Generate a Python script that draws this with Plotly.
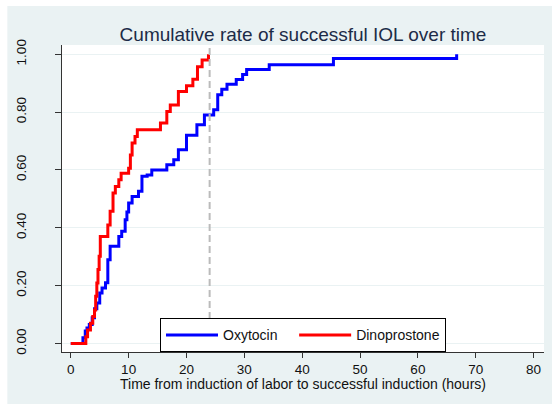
import plotly.graph_objects as go

# ---- data ----
oxy_time = [0, 2.1, 2.5, 2.8, 3.2, 3.7, 4.1, 4.5, 5.0, 5.4, 6.0, 6.4, 6.8,
            8.3, 8.8, 9.4, 9.7, 10.0, 10.6, 11.7, 12.3, 13.2, 14.0, 16.6,
            17.8, 18.6, 20.0, 21.8, 23.1, 24.7, 25.4, 26.1, 27.0, 28.6,
            29.7, 30.4, 34.3, 45.4, 66.7]
oxy_rate = [0, 0.02, 0.043, 0.054, 0.066, 0.089, 0.12, 0.14, 0.175, 0.192,
            0.21, 0.29, 0.336, 0.37, 0.388, 0.428, 0.455, 0.486, 0.508,
            0.526, 0.578, 0.583, 0.60, 0.618, 0.635, 0.67, 0.72, 0.756,
            0.79, 0.808, 0.86, 0.879, 0.896, 0.913, 0.93, 0.947, 0.964,
            0.985, 1.0]

dino_time = [0, 2.6, 2.9, 3.4, 3.8, 4.1, 4.3, 4.5, 4.7, 4.9, 5.1, 6.4,
             6.8, 7.3, 7.7, 8.3, 8.7, 10.0, 10.3, 10.6, 11.1, 11.5, 15.5,
             16.6, 17.2, 18.6, 20.0, 21.1, 21.9, 22.7, 23.8]
dino_rate = [0, 0.023, 0.047, 0.07, 0.093, 0.116, 0.163, 0.209, 0.256,
             0.302, 0.37, 0.41, 0.457, 0.52, 0.543, 0.566, 0.589, 0.606,
             0.652, 0.693, 0.716, 0.739, 0.762, 0.802, 0.825, 0.871, 0.891,
             0.914, 0.957, 0.98, 1.0]

x_ticks = [0, 10, 20, 30, 40, 50, 60, 70, 80]
y_ticks = [0, 0.2, 0.4, 0.6, 0.8, 1.0]
y_tick_labels = ["0.00", "0.20", "0.40", "0.60", "0.80", "1.00"]
cutoff_hours = 24

FONT = "Liberation Sans, Arial, sans-serif"
BG = "#EAF2F3"
PAD = "\u00a0\u00a0\u00a0"  # extra spacing after first legend label

fig = go.Figure()
fig.add_trace(go.Scatter(x=oxy_time, y=oxy_rate, mode="lines", name="Oxytocin" + PAD,
                         line=dict(color="#0000FF", width=3, shape="hv")))
fig.add_trace(go.Scatter(x=dino_time, y=dino_rate, mode="lines", name="Dinoprostone",
                         line=dict(color="#FF0000", width=3, shape="hv")))

fig.update_layout(
    width=552, height=404,
    margin=dict(l=62, r=8, t=45, b=52, autoexpand=False),
    paper_bgcolor="white", plot_bgcolor="white",
    font=dict(family=FONT, size=14, color="#111111"),
    title=dict(text="Cumulative rate of successful IOL over time",
               font=dict(family=FONT, size=19, color="#1c2b47"),
               x=0.5, xref="paper", xanchor="center",
               y=1 - 34 / 404, yref="container", yanchor="middle"),
    showlegend=True,
    legend=dict(orientation="h", x=0.5, xanchor="center", y=-0.001, yanchor="bottom",
                bgcolor="white", bordercolor="black", borderwidth=1,
                font=dict(family=FONT, size=14, color="#111111"),
                itemwidth=52),
    xaxis=dict(range=[-1.52, 81.8], tickvals=x_ticks, ticks="outside", ticklen=5,
               tickcolor="#333333", showgrid=False, zeroline=False,
               showline=True, linecolor="#333333", linewidth=1.3,
               tickfont=dict(family=FONT, size=13.5, color="#111111")),
    yaxis=dict(range=[-0.0293, 1.032], tickvals=y_ticks, ticktext=y_tick_labels,
               ticks="outside", ticklen=6, tickcolor="#333333", tickangle=-90,
               ticklabelstandoff=23,
               showgrid=True, gridcolor=BG, gridwidth=1, zeroline=False,
               showline=True, linecolor="#333333", linewidth=1.3,
               tickfont=dict(family=FONT, size=13.5, color="#111111")),
    shapes=[
        dict(type="rect", xref="paper", yref="paper", x0=-0.1134, x1=1.05,
             y0=-0.2, y1=1.1268, fillcolor=BG, line=dict(width=0), layer="below"),
        dict(type="rect", xref="paper", yref="paper", x0=0, x1=1, y0=0, y1=1,
             fillcolor="white", line=dict(width=0), layer="below"),
        dict(type="line", xref="x", yref="paper", x0=cutoff_hours, x1=cutoff_hours,
             y0=0, y1=1, line=dict(color="#BBBBBB", width=2, dash="7px,4px")),
    ],
    annotations=[
        dict(text="Time from induction of labor to successful induction (hours)",
             xref="paper", yref="paper", x=0.5, y=(352.5 - 385) / 307.5,
             xanchor="center", yanchor="middle", showarrow=False,
             font=dict(family=FONT, size=14, color="#111111")),
    ],
)

fig.write_html("out.html", config={"displayModeBar": False},
               post_script="document.body.style.margin='0';document.body.style.padding='0';")
